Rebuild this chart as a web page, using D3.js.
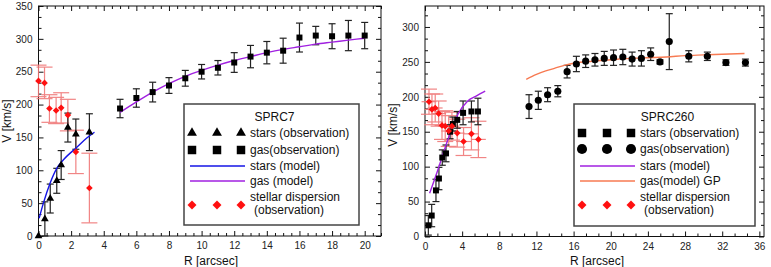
<!DOCTYPE html>
<html>
<head>
<meta charset="utf-8">
<style>
  body { margin: 0; background: #fff; }
  svg { display: block; font-family: "Liberation Sans", Arial, sans-serif; }
  .tick text { font-size: 10px; fill: #222; }
  .tick line { stroke: #111; }
</style>
</head>
<body>
<script src="https://d3js.org/d3.v7.min.js"></script>
<script>
// ---- SPRC7 (left panel) ----
var starsR7 = [0, 0.39, 0.72, 1.12, 1.39, 1.8, 2.29, 3.12];
var starsV7 = [0, 26, 57, 84, 108, 165, 155, 158];
var starsE7 = [0, 26, 22, 19, 22, 22, 23, 28];

var gasR7 = [5, 6, 7, 8, 9, 10, 11, 12, 13, 14, 15, 16, 17, 18, 19, 20];
var gasV7 = [194, 210, 219, 229, 240, 250, 256, 264, 273, 279, 282, 302, 305, 304, 305, 305];
var gasE7 = [14, 14, 15, 12, 12, 11, 11, 15, 17, 17, 19, 22, 14, 19, 23, 20];

var dispR7 = [0, 0.37, 0.67, 1.08, 1.39, 1.8, 2.29, 3.12];
var dispV7 = [236, 233, 194, 191, 195, 184, 128, 73];
var dispE7 = [24, 24, 21, 20, 23, 24, 33, 53];

var starModelR7 = [0.04, 0.3, 0.72, 1.12, 1.53, 2.35, 2.96, 3.43];
var starModelV7 = [27, 50, 81, 103, 116, 135, 149, 158];
var gasModelR7 = [5, 6, 7, 8, 9, 10, 11, 12, 13, 14, 15, 16, 17, 18, 19, 20];
var gasModelV7 = [188, 204, 219, 232, 243, 252, 260, 267, 273, 279, 284, 288, 292, 295, 298, 301];

// ---- SPRC260 (right panel) ----
var starsR260 = [0.36, 0.72, 1.18, 1.5, 1.86, 2.26, 2.7, 3.0, 3.47, 4.1, 5.0, 5.7];
var starsV260 = [16, 30, 66, 83, 113, 119, 150, 161, 167, 177, 179, 179];
var starsE260 = [14, 16, 16, 16, 11, 12, 10, 10, 12, 17, 15, 19];

var gasR260 = [11.2, 12.2, 13.2, 14.3, 15.3, 16.3, 17.3, 18.3, 19.3, 20.3, 21.3, 22.3, 23.3, 24.3, 25.3, 26.3, 28.4, 30.4, 32.4, 34.5];
var gasV260 = [186, 195, 203, 208, 236, 247, 251, 253, 255, 256, 257, 254, 255, 261, 250, 279, 258, 258, 249, 249];
var gasE260 = [17, 13, 10, 8, 9, 11, 9, 9, 10, 11, 11, 10, 11, 9, 3, 40, 8, 6, 4, 5];

var dispR260 = [0.43, 0.75, 1.1, 1.47, 1.83, 2.18, 2.55, 2.9, 3.47, 4.15, 5.0, 5.75];
var dispV260 = [193, 182, 184, 176, 159, 158, 151, 158, 148, 136, 147, 139];
var dispE260 = [18, 22, 20, 18, 20, 22, 22, 20, 20, 20, 23, 26];
var dispXE260 = [0.8, 0.8, 0.8, 0.8, 0.8, 0.8, 0.8, 0.8, 0.8, 0.8, 0.8, 0.8];

var starModelR260 = [0.5, 1.4, 2.47, 3.55, 4.6, 5.5, 6.48];
var starModelV260 = [62, 96, 139, 175, 194, 201, 208];
var gasModelR260 = [10.9, 12, 13, 14, 15, 16, 18, 20, 22, 24, 26, 28, 30, 32, 34.4];
var gasModelV260 = [225, 232, 237, 241, 245, 248, 251, 253, 255, 256, 257, 259, 260, 261, 262];

// tick labels
var xTicks7 = [0, 2, 4, 6, 8, 10, 12, 14, 16, 18, 20];
var yTicks7 = [0, 50, 100, 150, 200, 250, 300, 350];
var xTicks260 = [0, 4, 8, 12, 16, 20, 24, 28, 32, 36];
var yTicks260 = [0, 50, 100, 150, 200, 250, 300];

var width = 771, height = 267;
var svg = d3.select("body").append("svg").attr("width", width).attr("height", height);

var purple = "#a020e0", blue = "#1414e6", orange = "#f77a52", red = "#ff1010", pink = "#f07878";

function zip(a, b) { return a.map(function(d, i) { return [d, b[i]]; }); }

function minorOf(step, max, majors) {
  return d3.range(0, max + 1e-6, step).filter(function(v) {
    return !majors.some(function(m) { return Math.abs(m - v) < 1e-6; });
  });
}

function axes(g, x, y, xMaj, xMin, yMaj, yMin) {
  var x0 = x.range()[0], x1 = x.range()[1], y0 = y.range()[0], y1 = y.range()[1];
  g.append("g").attr("transform", "translate(0," + y0 + ")")
    .call(d3.axisBottom(x).tickValues(xMaj).tickSize(-5).tickPadding(6).tickFormat(d3.format("d")));
  g.append("g").attr("transform", "translate(0," + y0 + ")")
    .call(d3.axisBottom(x).tickValues(xMin).tickSize(-3).tickFormat(""));
  g.append("g").attr("transform", "translate(0," + y1 + ")")
    .call(d3.axisTop(x).tickValues(xMaj).tickSize(-5).tickFormat(""));
  g.append("g").attr("transform", "translate(0," + y1 + ")")
    .call(d3.axisTop(x).tickValues(xMin).tickSize(-3).tickFormat(""));
  g.append("g").attr("transform", "translate(" + x0 + ",0)")
    .call(d3.axisLeft(y).tickValues(yMaj).tickSize(-5).tickPadding(6).tickFormat(d3.format("d")));
  g.append("g").attr("transform", "translate(" + x0 + ",0)")
    .call(d3.axisLeft(y).tickValues(yMin).tickSize(-3).tickFormat(""));
  g.append("g").attr("transform", "translate(" + x1 + ",0)")
    .call(d3.axisRight(y).tickValues(yMaj).tickSize(-5).tickFormat(""));
  g.append("g").attr("transform", "translate(" + x1 + ",0)")
    .call(d3.axisRight(y).tickValues(yMin).tickSize(-3).tickFormat(""));
  g.selectAll(".domain").remove();
  g.append("rect").attr("x", x0).attr("y", y1).attr("width", x1 - x0).attr("height", y0 - y1)
    .attr("fill", "none").attr("stroke", "#111").attr("stroke-width", 1);
}

function errBars(g, x, y, R, V, E, color, capW, op) {
  var eg = g.append("g").attr("stroke", color).attr("stroke-width", 1.2).attr("opacity", op || 1);
  R.forEach(function(r, i) {
    if (!E[i]) return;
    var cx = x(r), t = y(V[i] + E[i]), b = y(V[i] - E[i]);
    eg.append("line").attr("x1", cx).attr("x2", cx).attr("y1", t).attr("y2", b);
    eg.append("line").attr("x1", cx - capW / 2).attr("x2", cx + capW / 2).attr("y1", t).attr("y2", t);
    eg.append("line").attr("x1", cx - capW / 2).attr("x2", cx + capW / 2).attr("y1", b).attr("y2", b);
  });
}

function marks(g, x, y, R, V, type, size, color, rot) {
  g.append("g").selectAll("path").data(zip(R, V)).join("path")
    .attr("d", d3.symbol().type(type).size(size))
    .attr("transform", function(d) { return "translate(" + x(d[0]) + "," + y(d[1]) + ")" + (rot ? " rotate(45)" : ""); })
    .attr("fill", color);
}

function curve(g, x, y, R, V, color) {
  g.append("path").datum(zip(R, V))
    .attr("d", d3.line().x(function(d) { return x(d[0]); }).y(function(d) { return y(d[1]); }).curve(d3.curveMonotoneX))
    .attr("fill", "none").attr("stroke", color).attr("stroke-width", 1.4);
}

function labels(g, cxLabel, cyLabel, yLabX) {
  g.append("text").attr("x", cxLabel).attr("y", 265).attr("text-anchor", "middle")
    .attr("font-size", 12).attr("fill", "#111").text("R [arcsec]");
  g.append("text").attr("transform", "translate(" + yLabX + "," + cyLabel + ") rotate(-90)")
    .attr("text-anchor", "middle").attr("font-size", 12).attr("fill", "#111").text("V [km/s]");
}

function legend(g, box, title, rows) {
  g.append("rect").attr("x", box[0]).attr("y", box[1]).attr("width", box[2] - box[0]).attr("height", box[3] - box[1])
    .attr("fill", "#fff").attr("stroke", "#444").attr("stroke-width", 1.5);
  g.append("text").attr("x", (box[0] + box[2]) / 2 + 3).attr("y", box[1] + 17).attr("text-anchor", "middle")
    .attr("font-size", 12).attr("fill", "#111").text(title);
  var mx = [box[0] + 8, box[0] + 33, box[0] + 57], tx = box[0] + 66;
  rows.forEach(function(r) {
    var ry = r.y;
    if (r.line) {
      g.append("line").attr("x1", box[0] + 6).attr("x2", box[0] + 61).attr("y1", ry).attr("y2", ry)
        .attr("stroke", r.line).attr("stroke-width", 1.5);
    } else {
      mx.forEach(function(m) {
        g.append("path").attr("d", d3.symbol().type(r.sym).size(r.size))
          .attr("transform", "translate(" + m + "," + ry + ")" + (r.rot ? " rotate(45)" : ""))
          .attr("fill", r.color);
      });
    }
    r.text.forEach(function(t, k) {
      g.append("text").attr("x", tx + (k > 0 ? 4 : 0)).attr("y", ry + 4 + (r.text.length > 1 ? (k * 13 - 8) : 0))
        .attr("font-size", 12).attr("fill", "#111").text(t);
    });
  });
}

// ---------- left panel ----------
var gL = svg.append("g");
var xL = d3.scaleLinear().domain([0, 21]).range([38.5, 381]);
var yL = d3.scaleLinear().domain([0, 350]).range([236, 6]);
axes(gL, xL, yL, xTicks7, minorOf(0.5, 21, xTicks7), yTicks7, minorOf(50 / 3, 350, yTicks7));
labels(gL, 211, 121, 11);

errBars(gL, xL, yL, dispR7, dispV7, dispE7, pink, 16, 0.9);
errBars(gL, xL, yL, starsR7, starsV7, starsE7, "#222", 7);
errBars(gL, xL, yL, gasR7, gasV7, gasE7, "#222", 7);
curve(gL, xL, yL, starModelR7, starModelV7, blue);
curve(gL, xL, yL, gasModelR7, gasModelV7, purple);
marks(gL, xL, yL, starsR7, starsV7, d3.symbolTriangle, 26, "#000");
marks(gL, xL, yL, gasR7, gasV7, d3.symbolSquare, 36, "#000");
marks(gL, xL, yL, dispR7, dispV7, d3.symbolSquare, 22, red, true);

legend(gL, [184, 104, 359, 225], "SPRC7", [
  { y: 133, sym: d3.symbolTriangle, size: 42, color: "#000", text: ["stars (observation)"] },
  { y: 150, sym: d3.symbolSquare, size: 72, color: "#000", text: ["gas(observation)"] },
  { y: 166, line: blue, text: ["stars (model)"] },
  { y: 181, line: purple, text: ["gas (model)"] },
  { y: 205, sym: d3.symbolSquare, size: 40, color: red, rot: true, text: ["stellar dispersion", "(observation)"] }
]);

// ---------- right panel ----------
var gR = svg.append("g");
var xR = d3.scaleLinear().domain([0, 36.5]).range([425, 764]);
var yR = d3.scaleLinear().domain([0, 330]).range([236.5, 6]);
axes(gR, xR, yR, xTicks260, minorOf(4 / 3, 36.5, xTicks260), yTicks260, minorOf(50 / 3, 330, yTicks260));
labels(gR, 597, 125, 397);

// horizontal error bars of the dispersion points
var hx = gR.append("g").attr("stroke", pink).attr("stroke-width", 1.2).attr("opacity", 0.9);
dispR260.forEach(function(r, i) {
  hx.append("line").attr("x1", xR(r - dispXE260[i])).attr("x2", xR(r + dispXE260[i]))
    .attr("y1", yR(dispV260[i])).attr("y2", yR(dispV260[i]));
});
errBars(gR, xR, yR, dispR260, dispV260, dispE260, pink, 16, 0.9);
errBars(gR, xR, yR, starsR260, starsV260, starsE260, "#222", 7);
errBars(gR, xR, yR, gasR260, gasV260, gasE260, "#222", 7);
curve(gR, xR, yR, starModelR260, starModelV260, purple);
curve(gR, xR, yR, gasModelR260, gasModelV260, orange);
marks(gR, xR, yR, starsR260, starsV260, d3.symbolSquare, 36, "#000");
marks(gR, xR, yR, gasR260, gasV260, d3.symbolCircle, 40, "#000");
marks(gR, xR, yR, dispR260, dispV260, d3.symbolSquare, 22, red, true);

legend(gR, [574, 104, 755, 226], "SPRC260", [
  { y: 133, sym: d3.symbolSquare, size: 72, color: "#000", text: ["stars (observation)"] },
  { y: 149, sym: d3.symbolCircle, size: 80, color: "#000", text: ["gas(observation)"] },
  { y: 166, line: purple, text: ["stars (model)"] },
  { y: 181, line: orange, text: ["gas(model) GP"] },
  { y: 205, sym: d3.symbolSquare, size: 40, color: red, rot: true, text: ["stellar dispersion", "(observation)"] }
]);
</script>
</body>
</html>
